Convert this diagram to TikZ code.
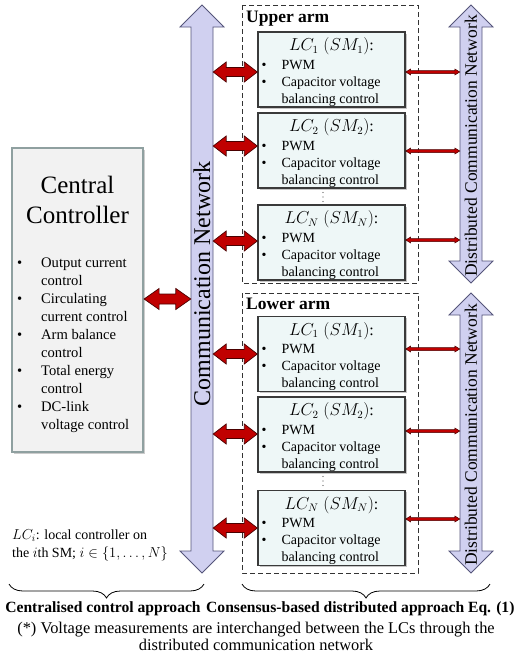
\documentclass[tikz,border=0pt]{standalone}
\usepackage{fontspec}
\setmainfont{Liberation Serif}
\usetikzlibrary{shadows,decorations.pathreplacing,calc}
\definecolor{netfill}{HTML}{D0D0F0}
\definecolor{netdraw}{HTML}{55557A}
\definecolor{arrred}{HTML}{C00000}
\definecolor{arrdark}{HTML}{4A0000}
\definecolor{ccfill}{HTML}{F2F2F2}
\definecolor{ccdraw}{HTML}{8FA0A0}
\definecolor{lcfill}{HTML}{EEF7F7}
\definecolor{lcdraw}{HTML}{3A3A3A}
\newcommand\fsz[1]{\fontsize{#1}{#1}\selectfont}
\newcommand\fszb[2]{\fontsize{#1}{#2}\selectfont}
\tikzset{
  lcbox/.style={draw=lcdraw, fill=lcfill, line width=1.4pt, minimum width=147pt, minimum height=75pt, inner sep=0pt,
    drop shadow={opacity=0.45, shadow xshift=1.5pt, shadow yshift=-1.5pt}},
  ccbox/.style={draw=ccdraw, fill=ccfill, line width=2.2pt, minimum width=131pt, minimum height=304pt, inner sep=0pt,
    drop shadow={opacity=0.4, shadow xshift=2pt, shadow yshift=-2pt}},
  armbox/.style={draw=black!80, dash pattern=on 5pt off 3pt, line width=0.8pt},
  netarrow/.style={draw=netdraw, fill=netfill, line width=0.8pt, line join=miter},
  fatarr/.style={draw=arrdark, fill=arrred, line width=0.7pt, line join=miter},
  thinarr/.style={draw=arrdark, fill=arrred, line width=0.5pt, line join=miter},
  shaft/.style={inner sep=0pt, minimum width=22pt},
  lctitle/.style={font=\fsz{16}},
  itemtxt/.style={font=\fsz{14}, inner sep=0pt, anchor=base west},
  ccitem/.style={font=\fsz{14.6}, inner sep=0pt, anchor=base west},
  boldlbl/.style={font=\fsz{15.6}\bfseries, inner sep=0pt, anchor=base},
  foot/.style={font=\fsz{16.4}, inner sep=0pt, anchor=base},
  dotstyle/.style={fill=black!70},
  bracestyle/.style={decorate, decoration={brace, mirror, amplitude=14pt}, line width=0.8pt}
}
% vertical double block arrow: cx, ytop, ybot, halfshaft, halfhead, headlen
\newcommand\vdarrow[6]{%
  \draw[netarrow] (#1,#2) -- ({#1+#5},{#2+#6}) -- ({#1+#4},{#2+#6}) -- ({#1+#4},{#3-#6}) -- ({#1+#5},{#3-#6}) -- (#1,#3)
   -- ({#1-#5},{#3-#6}) -- ({#1-#4},{#3-#6}) -- ({#1-#4},{#2+#6}) -- ({#1-#5},{#2+#6}) -- cycle;}
% horizontal double block arrow: style, from, to, halfshaft, halfhead, headlen
\newcommand\harrow[6]{%
  \path[#1] let \p1=(#2), \p2=(#3) in (\x1,\y1) -- (\x1+#6,\y1+#5) -- (\x1+#6,\y1+#4) -- (\x2-#6,\y2+#4) -- (\x2-#6,\y2+#5)
   -- (\x2,\y2) -- (\x2-#6,\y2-#5) -- (\x2-#6,\y2-#4) -- (\x1+#6,\y1-#4) -- (\x1+#6,\y1-#5) -- cycle;}
% LC box contents
\newcommand\lccontent[2]{%
  \node[lctitle] (#1t) at ($(#1.north)+(0,15)$) {$LC_{#2}\;(SM_{#2})$:};
  \node[itemtxt] (#1b1) at ($(#1.north west)+(4,38)$) {•};
  \node[itemtxt] (#1i1) at ($(#1.north west)+(24,38)$) {PWM};
  \node[itemtxt] (#1b2) at ($(#1.north west)+(4,55)$) {•};
  \node[itemtxt] (#1i2) at ($(#1.north west)+(24,55)$) {Capacitor voltage};
  \node[itemtxt] (#1i3) at ($(#1.north west)+(24,72)$) {balancing control};}
\begin{document}
\begin{tikzpicture}[x=1pt,y=-1pt]
\useasboundingbox (0,0) rectangle (517,672);
% arm boxes
\draw[armbox] (242,5) rectangle (418,283);
\draw[armbox] (242,293) rectangle (418,573);
\node[font=\fsz{17.5}\bfseries, anchor=west, inner sep=0pt] (upper) at (246,19) {Upper arm};
\node[font=\fsz{17.5}\bfseries, anchor=west, inner sep=0pt] (lower) at (246,304) {Lower arm};
% communication network
\vdarrow{202}{5}{573}{11}{22}{22}
\node[shaft, minimum height=524pt] (comm) at (202,289) {};
\node[rotate=90, font=\fsz{24}, inner sep=0pt] (commtxt) at (202,284) {Communication Network};
% distributed networks
\vdarrow{471}{5}{283}{11}{22}{22}
\node[shaft, minimum height=235pt] (d1) at (471,144) {};
\node[rotate=90, font=\fsz{17.5}, inner sep=0pt] (d1txt) at (471,146) {Distributed Communication Network};
\vdarrow{471}{293}{573}{11}{22}{22}
\node[shaft, minimum height=237pt] (d2) at (471,433) {};
\node[rotate=90, font=\fsz{17.5}, inner sep=0pt] (d2txt) at (471,435) {Distributed Communication Network};
% central controller
\node[ccbox] (cc) at (77.5,300) {};
\node[font=\fszb{25}{30}, align=center, inner sep=0pt] (cctitle) at (77.5,200) {Central\\Controller};
\foreach \i/\b/\t in {0/•/Output current, 1//control, 2/•/Circulating, 3//current control, 4/•/Arm balance, 5//control, 6/•/Total energy, 7//control, 8/•/DC-link, 9//voltage control}{
  \node[ccitem] (ccb\i) at (17,{267.5+18*\i}) {\b};
  \node[ccitem] (cci\i) at (41,{267.5+18*\i}) {\t};
}
% LC boxes
\node[lcbox] (u1) at (331.5,69.5) {};
\node[lcbox] (u2) at (331.5,150.5) {};
\node[lcbox] (u3) at (331.5,242.5) {};
\node[lcbox] (l1) at (331.5,354) {};
\node[lcbox] (l2) at (331.5,434.5) {};
\node[lcbox] (l3) at (331.5,528) {};
\lccontent{u1}{1}
\lccontent{u2}{2}
\lccontent{u3}{N}
\lccontent{l1}{1}
\lccontent{l2}{2}
\lccontent{l3}{N}
% vertical dots between LC_2 and LC_N
\foreach \y in {192.5,197,201.5}{\fill[dotstyle] (323,\y) circle (0.7);}
\foreach \y in {476.5,481,485.5}{\fill[dotstyle] (323,\y) circle (0.7);}
% fat red arrows
\harrow{fatarr}{cc.east |- 0,299}{comm.west |- 0,299}{5pt}{10.5pt}{15pt}
\harrow{fatarr}{comm.east |- 0,72}{u1.west |- 0,72}{4.5pt}{10pt}{13pt}
\harrow{fatarr}{comm.east |- 0,146}{u2.west |- 0,146}{4.5pt}{10pt}{13pt}
\harrow{fatarr}{comm.east |- 0,241}{u3.west |- 0,241}{4.5pt}{10pt}{13pt}
\harrow{fatarr}{comm.east |- 0,354}{l1.west |- 0,354}{4.5pt}{10pt}{13pt}
\harrow{fatarr}{comm.east |- 0,434}{l2.west |- 0,434}{4.5pt}{10pt}{13pt}
\harrow{fatarr}{comm.east |- 0,528}{l3.west |- 0,528}{4.5pt}{10pt}{13pt}
% thin red arrows
\harrow{thinarr}{u1.east |- 0,72}{d1.west |- 0,72}{1.5pt}{3pt}{5pt}
\harrow{thinarr}{u2.east |- 0,151}{d1.west |- 0,151}{1.5pt}{3pt}{5pt}
\harrow{thinarr}{u3.east |- 0,240}{d1.west |- 0,240}{1.5pt}{3pt}{5pt}
\harrow{thinarr}{l1.east |- 0,349}{d2.west |- 0,349}{1.5pt}{3pt}{5pt}
\harrow{thinarr}{l2.east |- 0,431}{d2.west |- 0,431}{1.5pt}{3pt}{5pt}
\harrow{thinarr}{l3.east |- 0,519}{d2.west |- 0,519}{1.5pt}{3pt}{5pt}
% LC_i note
\node[itemtxt] (note1) at (12,539.5) {$LC_i$: local controller on};
\node[itemtxt] (note2) at (12,557.5) {the $i$th SM; $i\in\{1,\dots,N\}$};
% braces
\coordinate (bl1) at (9,584);
\coordinate (bl2) at (204,584);
\coordinate (br1) at (242,584);
\coordinate (br2) at (490,584);
\draw[bracestyle] (bl1) -- (bl2);
\draw[bracestyle] (br1) -- (br2);
\node[boldlbl] (lblc) at (103,612) {Centralised control approach};
\node[boldlbl, anchor=base west] (lbld) at (206,612) {Consensus-based distributed approach Eq. (1)};
\node[foot] (f1) at (256,633) {(*) Voltage measurements are interchanged between the LCs through the};
\node[foot] (f2) at (256,650) {distributed communication network};
\end{tikzpicture}
\end{document}
